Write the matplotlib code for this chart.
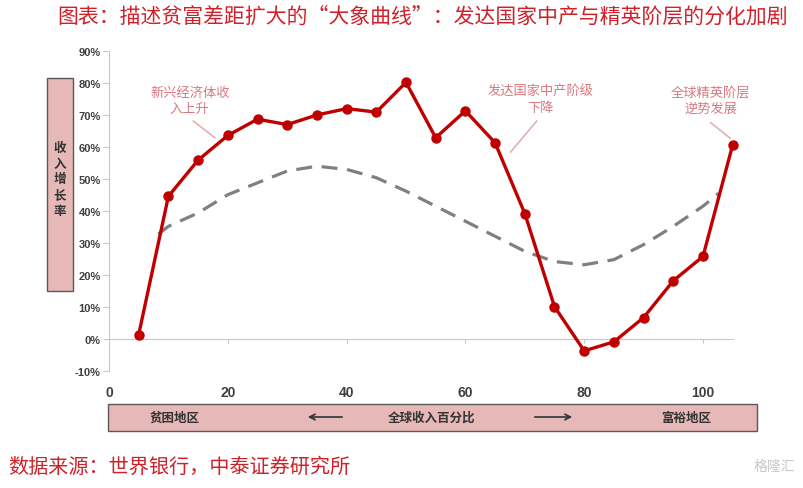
import matplotlib.pyplot as plt
from matplotlib.patches import Rectangle

plt.rcParams['font.family'] = ['Noto Sans CJK SC', 'DejaVu Sans']

# ------------------------------
# Data
# ------------------------------
pct = [5, 10, 15, 20, 25, 30, 35, 40, 45, 50, 55, 60, 65, 70, 75, 80, 85, 90, 95, 100, 105]
growth = [1.4, 44.6, 55.9, 63.6, 68.7, 67.0, 70.0, 72.0, 70.9, 80.2, 62.9, 71.3,
          61.3, 39.2, 10.1, -3.7, -0.9, 6.7, 18.2, 25.8, 60.7]

trend_x = [8.3, 10, 15, 20, 25, 30, 35, 40, 45, 50, 55, 60, 65, 70, 75, 80, 85, 90, 95, 100, 102.6]
trend_y = [32.8, 35.2, 39.4, 45.1, 48.8, 52.5, 54.0, 53.0, 50.4, 46.2, 41.5, 36.8,
           32.1, 27.4, 24.2, 23.2, 24.8, 29.5, 35.2, 41.5, 45.5]

x_ticks = [0, 20, 40, 60, 80, 100]
y_ticks = list(range(-10, 100, 10))

title = '图表：描述贫富差距扩大的“大象曲线”：发达国家中产与精英阶层的分化加剧'
source = '数据来源：世界银行，中泰证券研究所'
notes = ['新兴经济体收\n入上升', '发达国家中产阶级\n下降', '全球精英阶层\n逆势发展']
note_xy = [(13.6, 74.6), (72.6, 74.9), (101.3, 74.4)]
note_lines = [((14.2, 68.1), (17.8, 62.9)), ((72.0, 68.1), (67.6, 58.4)), ((101.3, 67.6), (104.6, 62.7))]

RED = '#c00000'
PINK_TXT = '#d9787f'
BOX = '#e6b8b7'
TITLE_RED = '#d0202a'
TXT = '#333333'

fig = plt.figure(figsize=(8.04, 4.89), dpi=100)
ax = fig.add_axes([109 / 804, 1 - 372 / 489, 623.7 / 804, 320 / 489])

ax.plot(trend_x, trend_y, color='#808080', lw=2.3, dashes=(5, 3), zorder=2)
ax.plot(pct, growth, color=RED, lw=2.4, marker='o', ms=6.5, clip_on=False, zorder=3)

ax.set_xlim(0, 105)
ax.set_ylim(-10, 90)
ax.set_xticks(x_ticks)
ax.set_yticks(y_ticks)
ax.set_yticklabels([f'{v}%' for v in y_ticks])

for s in ['top', 'right']:
    ax.spines[s].set_visible(False)
ax.spines['bottom'].set_position(('data', 0))
ax.spines['bottom'].set_color('#c8c8c8')
ax.spines['left'].set_color('#c8c8c8')
ax.tick_params(axis='y', colors='#c8c8c8', labelcolor='#404040', length=4, pad=2, labelsize=8)
ax.tick_params(axis='x', colors='#c8c8c8', labelcolor='#404040', length=3, labelsize=10, pad=30)
for lab in ax.get_xticklabels() + ax.get_yticklabels():
    lab.set_fontweight('bold')
    lab.set_family(['Liberation Sans', 'DejaVu Sans'])

for txt, (tx, ty), (p0, p1) in zip(notes, note_xy, note_lines):
    ax.text(tx, ty, txt, color=PINK_TXT, fontsize=9.5, ha='center', va='center',
            style='italic', linespacing=1.25)
    ax.plot([p0[0], p1[0]], [p0[1], p1[1]], color='#e0b0b4', lw=1.2, clip_on=False)

# title / source
fig.text(57 / 804, 1 - 17 / 489, title, color=TITLE_RED, fontsize=15, va='center', ha='left')
fig.text(8 / 804, 1 - 467 / 489, source, color=TITLE_RED, fontsize=14.5, va='center', ha='left')
fig.text(795 / 804, 1 - 467 / 489, '格隆汇', color='#c8c8c8', fontsize=10, va='center', ha='right')

# y-label box
fig.add_artist(Rectangle((47 / 804, 1 - 292 / 489), 26 / 804, 213 / 489,
                         transform=fig.transFigure, facecolor=BOX, edgecolor='#595959', lw=1))
fig.text(60 / 804, 1 - 180 / 489, '收\n入\n增\n长\n率', color=TXT, fontsize=9,
         fontweight='bold', ha='center', va='center', linespacing=1.3)

# bottom box
fig.add_artist(Rectangle((108 / 804, 1 - 432 / 489), 649 / 804, 27 / 489,
                         transform=fig.transFigure, facecolor=BOX, edgecolor='#595959', lw=1))
yb = 1 - 418 / 489
fig.text(175 / 804, yb, '贫困地区', color=TXT, fontsize=9, fontweight='bold', ha='center', va='center')
fig.text(432 / 804, yb, '全球收入百分比', color=TXT, fontsize=9, fontweight='bold', ha='center', va='center')
fig.text(686 / 804, yb, '富裕地区', color=TXT, fontsize=9, fontweight='bold', ha='center', va='center')
fig.add_artist(plt.Annotation('', xy=(305 / 804, yb), xytext=(345 / 804, yb), xycoords='figure fraction',
                              arrowprops=dict(arrowstyle='->', color=TXT, lw=1.2)))
fig.add_artist(plt.Annotation('', xy=(575 / 804, yb), xytext=(532 / 804, yb), xycoords='figure fraction',
                              arrowprops=dict(arrowstyle='->', color=TXT, lw=1.2)))

fig.savefig('out.png', dpi=100)
